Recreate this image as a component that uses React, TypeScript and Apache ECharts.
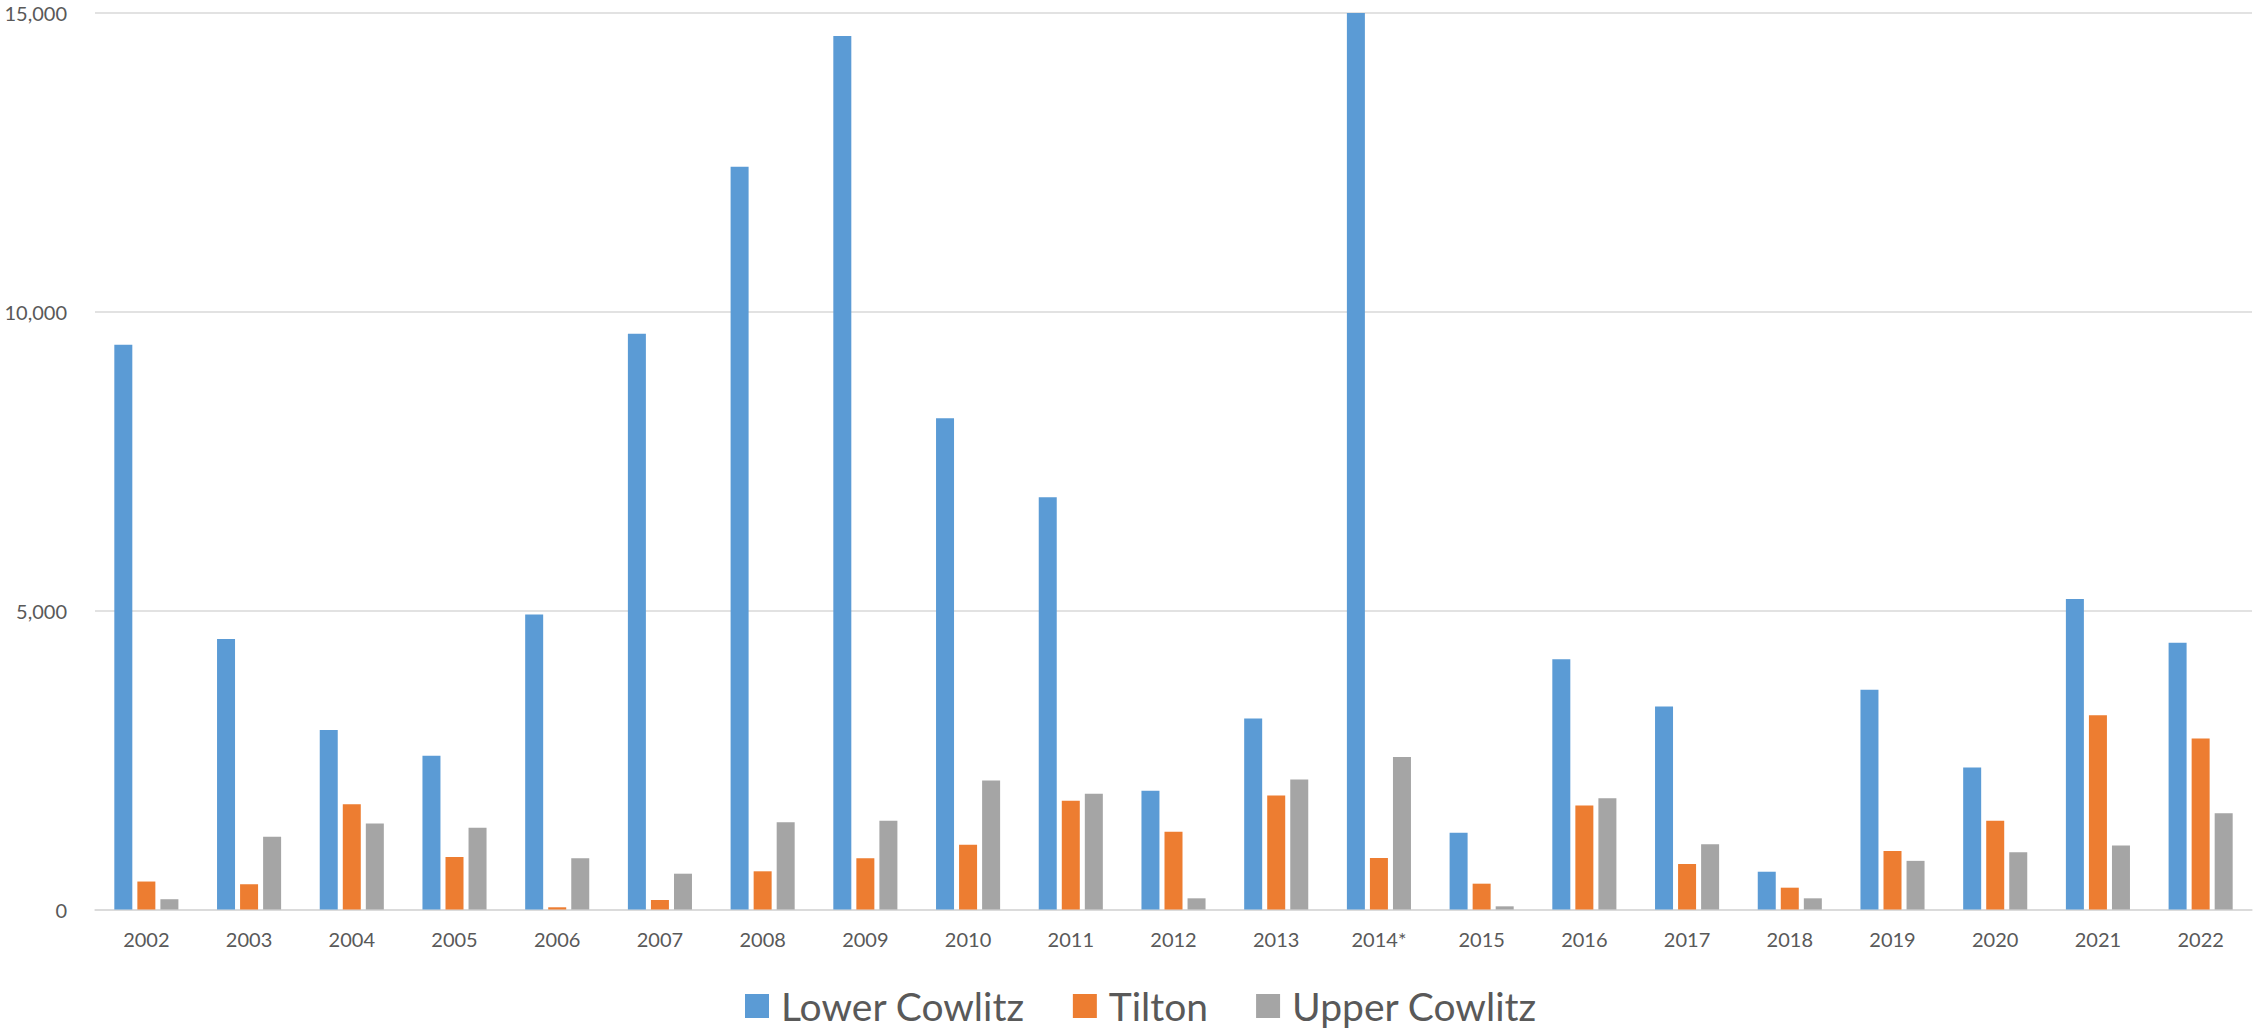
import React, { useEffect, useRef } from "react";
import * as echarts from "echarts";

const years = [
  "2002", "2003", "2004", "2005", "2006", "2007", "2008", "2009", "2010", "2011",
  "2012", "2013", "2014*", "2015", "2016", "2017", "2018", "2019", "2020", "2021", "2022",
];

const lowerCowlitz = [
  9450, 4527, 3005, 2572, 4936, 9635, 12428, 14615, 8221, 6899,
  1987, 3197, 15000, 1285, 4189, 3398, 632, 3675, 2375, 5195, 4465,
];

const tilton = [
  468, 423, 1761, 878, 37, 159, 639, 856, 1084, 1819,
  1301, 1909, 861, 432, 1742, 761, 365, 978, 1483, 3249, 2860,
];

const upperCowlitz = [
  172, 1216, 1438, 1368, 856, 599, 1458, 1485, 2160, 1937,
  187, 2177, 2550, 53, 1860, 1090, 187, 814, 958, 1070, 1611,
];

const seriesNames = ["Lower Cowlitz", "Tilton", "Upper Cowlitz"];
const seriesColors = ["#5B9BD5", "#ED7D31", "#A5A5A5"];

const yTicks = { min: 0, max: 15000, interval: 5000 };

export default function App() {
  const ref = useRef<HTMLDivElement>(null);

  useEffect(() => {
    if (!ref.current) return;
    const chart = echarts.init(ref.current, null, { renderer: "svg" });
    const font = "Lato, 'Open Sans', sans-serif";
    const dataSets = [lowerCowlitz, tilton, upperCowlitz];
    chart.setOption({
      animation: false,
      backgroundColor: "#ffffff",
      textStyle: { fontFamily: font },
      grid: { left: 95, right: 3, top: 13, bottom: 118.5, containLabel: false },
      legend: {
        left: 745,
        top: 986,
        padding: 0,
        itemWidth: 24,
        itemHeight: 24,
        itemGap: 48,
        icon: "rect",
        textStyle: {
          fontFamily: font,
          fontSize: 39,
          color: "#595959",
          lineHeight: 40,
          padding: [0, 0, 0, 7],
        },
        data: seriesNames,
      },
      xAxis: {
        type: "category",
        data: years,
        axisTick: { show: false },
        axisLine: { lineStyle: { color: "#d9d9d9", width: 1.5 } },
        axisLabel: {
          color: "#595959",
          fontSize: 20,
          fontFamily: font,
          margin: 19,
          interval: 0,
        },
      },
      yAxis: {
        type: "value",
        min: yTicks.min,
        max: yTicks.max,
        interval: yTicks.interval,
        axisLine: { show: false },
        axisTick: { show: false },
        splitLine: { lineStyle: { color: "#d9d9d9", width: 1.5 } },
        axisLabel: {
          color: "#595959",
          fontSize: 20,
          fontFamily: font,
          margin: 28,
          formatter: (v: number) => v.toLocaleString("en-US"),
        },
      },
      series: seriesNames.map((name, i) => ({
        name,
        type: "bar",
        data: dataSets[i],
        barWidth: 18,
        barGap: "28%",
        itemStyle: { color: seriesColors[i] },
      })),
    });
    return () => chart.dispose();
  }, []);

  return (
    <div
      ref={ref}
      style={{ position: "fixed", left: 0, top: 0, width: 2255, height: 1028, background: "#fff" }}
    />
  );
}
